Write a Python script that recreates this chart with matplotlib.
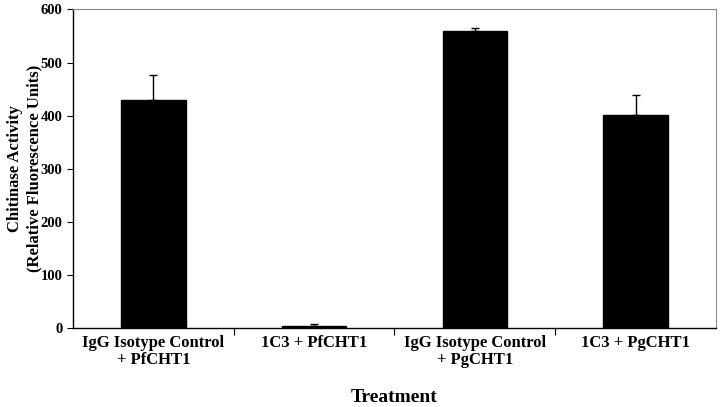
import numpy as np
import matplotlib.pyplot as plt

plt.rcParams['font.family'] = ['Liberation Serif', 'DejaVu Serif']
plt.rcParams['font.weight'] = 'bold'

# Chitinase activity per treatment
Treatments = ['IgG Isotype Control\n+ PfCHT1', '1C3 + PfCHT1',
              'IgG Isotype Control\n+ PgCHT1', '1C3 + PgCHT1']
Activity = [429, 3, 560, 401]
ActivityErr = [48, 5, 5, 37]

fig = plt.figure(figsize=(7.2, 4.07), dpi=100)
ax = fig.add_axes([0.1014, 0.194, 0.8930, 0.7827])

xpos = np.arange(len(Treatments))
ax.bar(xpos, Activity, width=0.4, color='black', edgecolor='black')
ax.errorbar(xpos, Activity, yerr=[np.zeros(len(Activity)), ActivityErr],
            fmt='none', ecolor='black', elinewidth=1, capsize=3, capthick=1)

ax.set_xlim(-0.5, 3.5)
ax.set_ylim(0, 600)
ax.set_yticks(np.arange(0, 601, 100))
ax.set_yticklabels([str(v) for v in range(0, 601, 100)], fontsize=10.5, fontweight='bold')

# category ticks sit at the boundaries, labels at the centres
ax.set_xticks(np.arange(0.5, 3.5, 1.0))
ax.set_xticklabels([])
ax.set_xticks(xpos, minor=True)
ax.set_xticklabels(Treatments, minor=True, fontsize=12, fontweight='bold',
                   linespacing=1.05)
ax.tick_params(axis='x', which='minor', length=0, pad=5)
ax.tick_params(axis='x', which='major', length=5, direction='out')
ax.tick_params(axis='y', length=4, direction='out')

for side in ['top', 'right']:
    ax.spines[side].set_color('#8a8a8a')
    ax.spines[side].set_linewidth(0.8)
for side in ['left', 'bottom']:
    ax.spines[side].set_color('black')
    ax.spines[side].set_linewidth(1.0)

ax.set_ylabel('Chitinase Activity\n(Relative Fluorescence Units)', fontsize=12,
              fontweight='bold', linespacing=1.25)
ax.yaxis.set_label_coords(-0.048, 0.5)
ax.set_xlabel('Treatment', fontsize=14, fontweight='bold')
ax.xaxis.set_label_coords(0.5, -0.19)

fig.savefig('out.png', dpi=100)
